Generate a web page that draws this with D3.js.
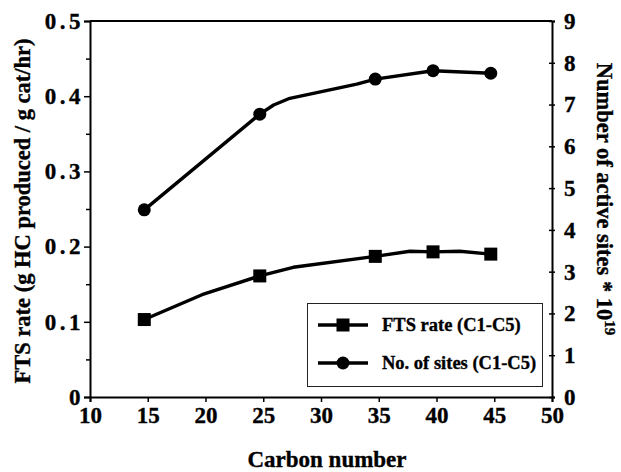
<!DOCTYPE html>
<html>
<head>
<meta charset="utf-8">
<script src="https://cdn.jsdelivr.net/npm/d3@7"></script>
<style>
  html, body { margin: 0; padding: 0; background: #fff; }
  svg { display: block; }
  text { font-family: "Liberation Serif", "Times New Roman", serif; font-weight: bold; fill: #000;
         stroke: #000; stroke-width: 0.35px; }
</style>
</head>
<body>
<svg id="chart" width="621" height="472"></svg>
<script>
// Marker positions (carbon number) and values of the two series
const carbon = [14.7, 24.7, 34.7, 39.7, 44.7];
const ftsRate = [0.103, 0.161, 0.187, 0.193, 0.190];
const activeSites = [4.48, 6.77, 7.61, 7.81, 7.75];

// Full line traces (markers plus unmarked bend points)
const ftsTraceX = [14.7, 19.7, 24.7, 27.6, 34.7, 37.7, 39.7, 42.0, 44.7];
const ftsTrace = [0.103, 0.136, 0.161, 0.1725, 0.187, 0.1938, 0.193, 0.1938, 0.190];
const sitesTraceX = [14.7, 24.7, 25.9, 27.3, 33.1, 34.7, 39.7, 44.7];
const sitesTrace = [4.48, 6.77, 6.99, 7.15, 7.49, 7.61, 7.81, 7.75];

// Axis ticks
const xTicks = [10, 15, 20, 25, 30, 35, 40, 45, 50];
const leftTicks = [0, 0.1, 0.2, 0.3, 0.4, 0.5];
const leftTickLabels = ["0", "0.1", "0.2", "0.3", "0.4", "0.5"];
const leftMinorTicks = [0.05, 0.15, 0.25, 0.35, 0.45];
const rightTicks = [0, 1, 2, 3, 4, 5, 6, 7, 8, 9];

const legendLabels = ["FTS rate (C1-C5)", "No. of sites (C1-C5)"];

const svg = d3.select("#chart");
const plotL = 90, plotR = 552, plotT = 21, plotB = 397;

const x = d3.scaleLinear().domain([10, 50]).range([plotL, plotR]);
const yL = d3.scaleLinear().domain([0, 0.5]).range([plotB, plotT]);
const yR = d3.scaleLinear().domain([0, 9]).range([plotB, plotT]);

const tickFont = "23px";

// Top frame line
svg.append("line")
  .attr("x1", plotL).attr("x2", plotR).attr("y1", plotT).attr("y2", plotT)
  .attr("stroke", "#000").attr("stroke-width", 2);

function styleTicks(g) {
  g.attr("font-family", null).attr("font-size", null);
  g.selectAll(".tick text").style("font-size", tickFont).style("font-weight", "bold");
}

// Bottom axis
const gx = svg.append("g").attr("transform", `translate(0,${plotB})`)
  .call(d3.axisBottom(x).tickValues(xTicks).tickSize(5).tickPadding(3).tickFormat(d3.format("d")));
gx.select(".domain").attr("stroke-width", 2);
gx.selectAll(".tick line").attr("stroke-width", 1.5);
styleTicks(gx);
gx.selectAll(".tick text").attr("dy", "0.8em");

// Left axis (major + minor ticks)
const gl = svg.append("g").attr("transform", `translate(${plotL},0)`)
  .call(d3.axisLeft(yL).tickValues(leftTicks).tickSize(6).tickPadding(0)
    .tickFormat((d, i) => leftTickLabels[i]));
gl.select(".domain").attr("stroke-width", 2);
gl.selectAll(".tick line").attr("stroke-width", 1.5);
styleTicks(gl);
gl.selectAll(".tick text").style("letter-spacing", "3.5px");
const glm = svg.append("g").attr("transform", `translate(${plotL},0)`)
  .call(d3.axisLeft(yL).tickValues(leftMinorTicks).tickSize(4).tickFormat(""));
glm.select(".domain").remove();
glm.selectAll(".tick line").attr("stroke-width", 1.5);

// Right axis (ticks cross the line)
const gr = svg.append("g").attr("transform", `translate(${plotR},0)`)
  .call(d3.axisRight(yR).tickValues(rightTicks).tickSize(3).tickPadding(9).tickFormat(d3.format("d")));
gr.select(".domain").attr("stroke-width", 2);
gr.selectAll(".tick line").attr("x1", -3).attr("stroke-width", 1.5);
styleTicks(gr);

// Axis titles
svg.append("text")
  .attr("transform", `translate(30,${(plotT + plotB) / 2 + 2}) rotate(-90)`)
  .attr("text-anchor", "middle")
  .style("font-size", "22.5px")
  .text("FTS rate (g HC produced / g cat/hr)");

const rt = svg.append("text")
  .attr("transform", `translate(597,${(plotT + plotB) / 2 - 10}) rotate(90)`)
  .attr("text-anchor", "middle")
  .style("font-size", "22.5px");
rt.append("tspan").text("Number of active sites * 10");
rt.append("tspan").attr("baseline-shift", "super").style("font-size", "15px").text("19");

svg.append("text")
  .attr("x", 327).attr("y", 467)
  .attr("text-anchor", "middle")
  .style("font-size", "23px")
  .text("Carbon number");

// Series lines
const lineFts = d3.line().x(d => x(d[0])).y(d => yL(d[1]));
const lineSites = d3.line().x(d => x(d[0])).y(d => yR(d[1]));

svg.append("path")
  .datum(d3.zip(ftsTraceX, ftsTrace))
  .attr("d", lineFts)
  .attr("fill", "none").attr("stroke", "#000").attr("stroke-width", 3.4)
  .attr("stroke-linejoin", "round").attr("stroke-linecap", "round");

svg.append("path")
  .datum(d3.zip(sitesTraceX, sitesTrace))
  .attr("d", lineSites)
  .attr("fill", "none").attr("stroke", "#000").attr("stroke-width", 3.4)
  .attr("stroke-linejoin", "round").attr("stroke-linecap", "round");

// Markers
const sq = 13;
svg.append("g").selectAll("rect")
  .data(d3.zip(carbon, ftsRate))
  .join("rect")
  .attr("x", d => x(d[0]) - sq / 2).attr("y", d => yL(d[1]) - sq / 2)
  .attr("width", sq).attr("height", sq).attr("fill", "#000");

svg.append("g").selectAll("circle")
  .data(d3.zip(carbon, activeSites))
  .join("circle")
  .attr("cx", d => x(d[0])).attr("cy", d => yR(d[1]))
  .attr("r", 6.5).attr("fill", "#000");

// Legend
const lg = svg.append("g");
lg.append("rect")
  .attr("x", 307.5).attr("y", 303.5).attr("width", 235).attr("height", 83)
  .attr("fill", "#fff").attr("stroke", "#222").attr("stroke-width", 1);
legendLabels.forEach((label, i) => {
  const cy = 325 + i * 38;
  lg.append("line").attr("x1", 318).attr("x2", 368).attr("y1", cy).attr("y2", cy)
    .attr("stroke", "#000").attr("stroke-width", 3.4);
  if (i === 0) {
    lg.append("rect").attr("x", 343 - sq / 2).attr("y", cy - sq / 2)
      .attr("width", sq).attr("height", sq).attr("fill", "#000");
  } else {
    lg.append("circle").attr("cx", 343).attr("cy", cy).attr("r", 6.5).attr("fill", "#000");
  }
  lg.append("text").attr("x", 382).attr("y", cy).attr("dy", "0.35em")
    .style("font-size", "18.5px").text(label);
});
</script>
</body>
</html>
